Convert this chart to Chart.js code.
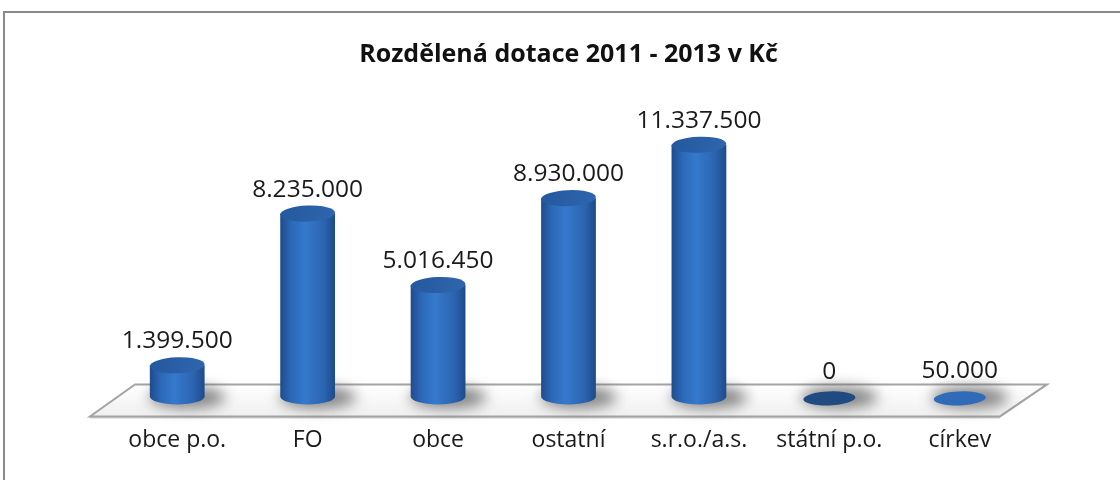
<!DOCTYPE html>
<html lang="cs">
<head>
<meta charset="utf-8">
<title>Rozdělená dotace 2011 - 2013 v Kč</title>
<script src="https://cdn.jsdelivr.net/npm/chart.js@4/dist/chart.umd.min.js"></script>
<style>
  html, body { margin: 0; padding: 0; background: #fff; }
  #wrap { width: 1120px; height: 480px; position: relative; }
</style>
</head>
<body>
<div id="wrap"><canvas id="graf" width="1120" height="480"></canvas></div>
<script>
// data z grafu
const categories = ['obce p.o.', 'FO', 'obce', 'ostatní', 's.r.o./a.s.', 'státní p.o.', 'církev'];
const amounts = [1399500, 8235000, 5016450, 8930000, 11337500, 0, 50000];
const chartTitle = 'Rozdělená dotace 2011 - 2013 v Kč';
const axisMax = 12000000;

const FONT = '"Open Sans", "Noto Sans", sans-serif';

// formát 1.399.500
function formatKc(v) {
  return String(v).replace(/\B(?=(\d{3})+(?!\d))/g, '.');
}

// rámeček + podlaha
const floorPlugin = {
  id: 'floor',
  beforeDraw(chart) {
    const ctx = chart.ctx;
    ctx.save();
    ctx.strokeStyle = '#8a8a8a';
    ctx.lineWidth = 2;
    ctx.strokeRect(4, 12, 1300, 700);
    ctx.restore();
  },
  beforeDatasetsDraw(chart) {
    const ctx = chart.ctx;
    const a = chart.chartArea;
    const backY = a.bottom - 12, frontY = a.bottom + 20;
    ctx.save();
    // hrana podlahy
    ctx.beginPath();
    ctx.moveTo(a.left - 22, frontY);
    ctx.lineTo(a.right - 25, frontY);
    ctx.lineTo(a.right - 25, frontY + 2);
    ctx.lineTo(a.left - 22, frontY + 2);
    ctx.closePath();
    ctx.fillStyle = '#d0d0d0';
    ctx.fill();

    ctx.beginPath();
    ctx.moveTo(a.left + 23, backY);
    ctx.lineTo(a.right + 22, backY);
    ctx.lineTo(a.right - 25, frontY);
    ctx.lineTo(a.left - 22, frontY);
    ctx.closePath();
    const g = ctx.createLinearGradient(0, backY, 0, frontY);
    g.addColorStop(0, '#ffffff');
    g.addColorStop(1, '#f0f0f0');
    ctx.fillStyle = g;
    ctx.fill();
    ctx.strokeStyle = '#a4a4a4';
    ctx.lineWidth = 2;
    ctx.stroke();
    ctx.restore();
  }
};

// válce místo sloupců
const cylinderPlugin = {
  id: 'cylinders',
  afterDatasetsDraw(chart) {
    const ctx = chart.ctx;
    const meta = chart.getDatasetMeta(0);
    meta.data.forEach((bar, i) => {
      const p = bar.getProps(['x', 'y', 'base', 'width'], true);
      const rx = p.width / 2;
      const ry = 8;
      const left = p.x - rx, right = p.x + rx;

      // stín na podlaze
      ctx.save();
      ctx.filter = 'blur(7px)';
      ctx.fillStyle = 'rgba(70,70,70,0.65)';
      ctx.beginPath();
      ctx.ellipse(p.x + 10, p.base + 1, rx * 1.4, ry + 3, 0, 0, Math.PI * 2);
      ctx.fill();
      ctx.restore();

      const h = p.base - p.y;
      ctx.save();
      if (h > 2) {
        const g = ctx.createLinearGradient(left, 0, right, 0);
        g.addColorStop(0, '#1f4c8c');
        g.addColorStop(0.2, '#2c68b8');
        g.addColorStop(0.45, '#3679cc');
        g.addColorStop(0.8, '#2b64b0');
        g.addColorStop(1, '#1e4a88');
        ctx.fillStyle = g;
        ctx.beginPath();
        ctx.moveTo(left, p.y);
        ctx.lineTo(left, p.base);
        ctx.ellipse(p.x, p.base, rx, ry, 0, Math.PI, 0, true);
        ctx.lineTo(right, p.y);
        ctx.closePath();
        ctx.fill();

        // horní podstava
        const gt = ctx.createLinearGradient(left, p.y - ry, right, p.y + ry);
        gt.addColorStop(0, '#24589e');
        gt.addColorStop(1, '#2f66ae');
        ctx.fillStyle = gt;
        ctx.beginPath();
        ctx.ellipse(p.x, p.y, rx, ry, -0.04, 0, Math.PI * 2);
        ctx.fill();
      } else {
        // nulová / skoro nulová hodnota - jen elipsa
        ctx.fillStyle = amounts[i] === 0 ? '#1f4a82' : '#2f6bb8';
        ctx.beginPath();
        ctx.ellipse(p.x, p.base + 2, rx * 0.95, ry - 1, -0.04, 0, Math.PI * 2);
        ctx.fill();
      }
      ctx.restore();

      // popisek hodnoty
      ctx.save();
      ctx.font = '24.5px ' + FONT;
      ctx.fillStyle = '#1a1a1a';
      ctx.textAlign = 'center';
      ctx.textBaseline = 'middle';
      ctx.fillText(formatKc(amounts[i]), p.x, p.y - 24);
      ctx.restore();
    });
  }
};

new Chart(document.getElementById('graf'), {
  type: 'bar',
  data: {
    labels: categories,
    datasets: [{
      data: amounts,
      backgroundColor: 'rgba(0,0,0,0)',
      borderWidth: 0,
      categoryPercentage: 1,
      barPercentage: 0.42
    }]
  },
  options: {
    responsive: false,
    animation: false,
    layout: { padding: { left: 112, right: 95, top: 0, bottom: 4 } },
    plugins: {
      legend: { display: false },
      tooltip: { enabled: false },
      title: {
        display: true,
        text: chartTitle,
        color: '#111',
        font: { family: FONT, size: 25, weight: 'bold' },
        padding: { top: 40, bottom: 60 }
      }
    },
    scales: {
      x: {
        grid: { display: false },
        border: { display: false },
        ticks: {
          color: '#1a1a1a',
          padding: 22,
          font: { family: FONT, size: 23 },
          maxRotation: 0
        }
      },
      y: {
        display: false,
        min: 0,
        max: axisMax
      }
    }
  },
  plugins: [floorPlugin, cylinderPlugin]
});
</script>
</body>
</html>
